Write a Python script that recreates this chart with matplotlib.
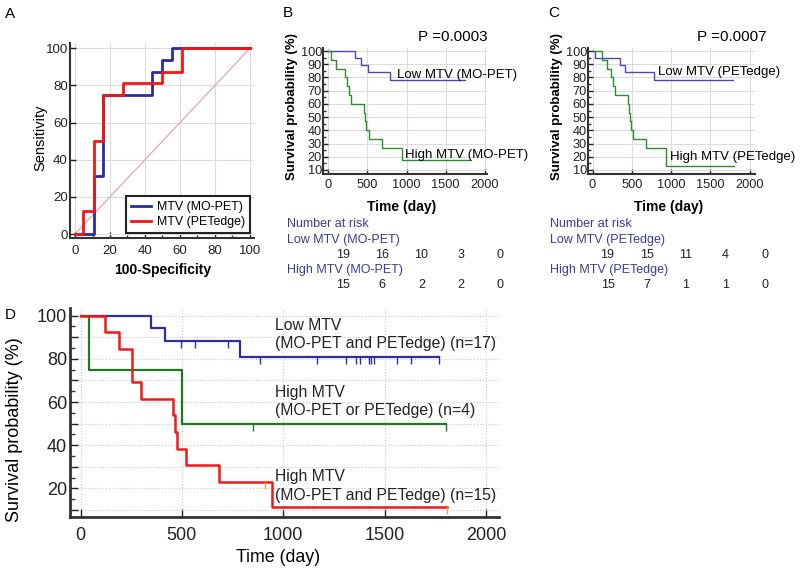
import numpy as np
import matplotlib
matplotlib.use("Agg")
import matplotlib.pyplot as plt
import matplotlib.transforms as mtransforms
from matplotlib.ticker import MultipleLocator, FuncFormatter

plt.rcParams['font.family'] = ['Liberation Sans', 'DejaVu Sans']

# ---------------- data ----------------
# Panel A: ROC curves (100-Specificity, Sensitivity)
roc_mo_x = [0, 10.9, 10.9, 16.2, 16.2, 44.2, 44.2, 49.9, 49.9, 55.2, 55.2, 100]
roc_mo_y = [0, 0, 31.25, 31.25, 75, 75, 87.5, 87.5, 93.75, 93.75, 100, 100]
roc_edge_x = [0, 4.8, 4.8, 10.9, 10.9, 16.2, 16.2, 27.2, 27.2, 49.9, 49.9, 61, 61, 100]
roc_edge_y = [0, 0, 12.5, 12.5, 50, 50, 75, 75, 81.25, 81.25, 87.5, 87.5, 100, 100]
roc_labels = ["MTV (MO-PET)", "MTV (PETedge)"]

# Panel B: KM by MO-PET
b_low_t = [0, 350, 423, 507, 784, 1750]
b_low_s = [100, 94.7, 89.5, 84.2, 78.0, 78.0]
b_high_t = [0, 40, 108, 214, 244, 262, 299, 462, 472, 484, 527, 688, 943, 1809]
b_high_s = [100, 93.3, 86.7, 80, 73.3, 66.7, 60, 53.3, 46.7, 40, 33.3, 26.7, 17.8, 17.8]
b_p = "P =0.0003"
b_groups = ["Low MTV (MO-PET)", "High MTV (MO-PET)"]
b_risk_low = [19, 16, 10, 3, 0]
b_risk_high = [15, 6, 2, 2, 0]

# Panel C: KM by PETedge
c_low_t = [0, 38, 347, 409, 779, 1784]
c_low_s = [100, 94.7, 89.5, 84.2, 78.0, 78.0]
c_high_t = [0, 121, 191, 239, 262, 283, 458, 470, 478, 490, 520, 685, 942, 1797]
c_high_s = [100, 93.3, 86.7, 80, 73.3, 66.7, 60, 53.3, 46.7, 40, 33.3, 26.7, 13.3, 13.3]
c_p = "P =0.0007"
c_groups = ["Low MTV (PETedge)", "High MTV (PETedge)"]
c_risk_low = [19, 15, 11, 4, 0]
c_risk_high = [15, 7, 1, 1, 0]

risk_times = [0, 500, 1000, 1500, 2000]

# Panel D: combined KM
d_low_t = [0, 346, 417, 787, 1770]
d_low_s = [100, 94.1, 88.2, 80.9, 80.9]
d_low_cens = [494, 565, 726, 886, 1165, 1308, 1359, 1379, 1425, 1433, 1448, 1563, 1630, 1770]
d_mix_t = [0, 40, 500, 1805]
d_mix_s = [100, 75, 50, 50]
d_mix_cens = [850, 1805]
d_high_t = [0, 121, 190, 252, 297, 458, 466, 474, 519, 685, 946, 1809]
d_high_s = [100, 92.3, 84.6, 69.2, 61.5, 53.8, 46.2, 38.5, 30.8, 23.1, 11.5, 11.5]
d_high_cens = [910, 1809]
d_labels = [("Low MTV", "(MO-PET and PETedge) (n=17)"),
            ("High MTV", "(MO-PET or PETedge) (n=4)"),
            ("High MTV", "(MO-PET and PETedge) (n=15)")]

# ---------------- layout helpers ----------------
W, H = 800, 572
fig = plt.figure(figsize=(W / 100, H / 100), dpi=100)


def rect(l, t, r, b):
    return [l / W, 1 - b / H, (r - l) / W, (b - t) / H]


def ftext(x, y, s, **kw):
    return fig.text(x / W, 1 - y / H, s, **kw)


SP = '#333333'


def style_axes(ax, lw=1.5, tick_len=4, grid_ls='-', grid_c='#dcdcdc'):
    for side in ['top', 'right']:
        ax.spines[side].set_visible(False)
    for side in ['left', 'bottom']:
        ax.spines[side].set_color(SP)
        ax.spines[side].set_linewidth(lw)
    ax.tick_params(which='both', direction='in', color=SP, width=1)
    ax.tick_params(which='major', length=tick_len)
    ax.tick_params(which='minor', length=tick_len * 0.6)
    ax.grid(True, which='major', color=grid_c, linestyle=grid_ls, linewidth=0.8)
    ax.set_axisbelow(True)


def surv_at(ts, ss, c):
    i = np.searchsorted(ts, c, side='right') - 1
    return ss[i]


# ---------------- Panel A ----------------
axA = fig.add_axes(rect(70, 43, 254, 238))
style_axes(axA)
axA.set_xlim(-2.86, 102.3)
axA.set_ylim(-2.15, 102.85)
axA.xaxis.set_major_locator(MultipleLocator(20))
axA.yaxis.set_major_locator(MultipleLocator(20))
axA.xaxis.set_minor_locator(MultipleLocator(10))
axA.tick_params(axis='both', labelsize=9.5, colors='#222222')
axA.tick_params(axis='y', pad=1.5)
axA.tick_params(axis='x', pad=5)
axA.plot([0, 100], [0, 100], color='#d9a0a0', lw=0.8)
axA.plot(roc_mo_x, roc_mo_y, color='#2b2ba6', lw=2, label=roc_labels[0])
axA.plot(roc_edge_x, roc_edge_y, color='#f21616', lw=2, label=roc_labels[1])
leg = axA.legend(loc='lower right', bbox_to_anchor=(0.978, 0.026), borderaxespad=0,
                 fontsize=8.9, fancybox=False, framealpha=1, edgecolor='#222222',
                 handlelength=1.6, handletextpad=0.5, borderpad=0.4, labelspacing=0.25)
leg.get_frame().set_linewidth(1.5)
ftext(5, 14, "A", fontsize=11, va='center', ha='left')
ftext(40, 138, "Sensitivity", fontsize=10.5, rotation=90, va='center', ha='center')
ftext(163, 270, "100-Specificity", fontsize=10, fontweight='bold', va='center', ha='center')


# ---------------- Panels B and C ----------------
def km_small(axrect, x0px, lo_t, lo_s, hi_t, hi_s, ptxt, groups, rlo, rhi,
             ylab_x, p_x, lo_lab, hi_lab, tab_x):
    ax = fig.add_axes(rect(*axrect))
    style_axes(ax, tick_len=3.5)
    l, t, r, b = axrect
    ppd = 0.0785
    ax.set_xlim(-(x0px - l) / ppd, (r - x0px) / ppd)
    ax.set_ylim(7.35, 102.3)
    ax.xaxis.set_major_locator(MultipleLocator(500))
    ax.yaxis.set_major_locator(MultipleLocator(10))
    ax.yaxis.set_minor_locator(MultipleLocator(5))
    ax.tick_params(axis='both', labelsize=9.2, colors='#222222')
    ax.tick_params(axis='y', pad=0.8)
    ax.tick_params(axis='x', pad=4)
    ax.step(lo_t, lo_s, where='post', color='#4a4ab4', lw=1.0)
    ax.step(hi_t, hi_s, where='post', color='#2e8b2e', lw=1.0)
    ftext(ylab_x, 107, "Survival probability (%)", fontsize=9.5, fontweight='bold',
          rotation=90, va='center', ha='center')
    ftext(l + (r - l) / 2 - 3, 207, "Time (day)", fontsize=10, fontweight='bold',
          va='center', ha='center')
    ftext(p_x, 37, ptxt, fontsize=11, va='center', ha='left')
    ftext(lo_lab[0], lo_lab[1], groups[0], fontsize=9.5, va='center', ha='left')
    ftext(hi_lab[0], hi_lab[1], groups[1], fontsize=9.5, va='center', ha='left')
    navy = '#3b3b9c'
    ftext(tab_x, 224, "Number at risk", fontsize=9, color=navy, va='center', ha='left')
    ftext(tab_x, 240, groups[0], fontsize=9, color=navy, va='center', ha='left')
    ftext(tab_x, 270, groups[1], fontsize=9, color=navy, va='center', ha='left')
    trans = mtransforms.blended_transform_factory(ax.transData, fig.transFigure) + \
        mtransforms.ScaledTranslation(0.15, 0, fig.dpi_scale_trans)
    for tt, n1, n2 in zip(risk_times, rlo, rhi):
        ax.text(tt, 1 - 255 / H, str(n1), transform=trans, fontsize=9,
                color='#222222', ha='center', va='center')
        ax.text(tt, 1 - 285 / H, str(n2), transform=trans, fontsize=9,
                color='#222222', ha='center', va='center')
    return ax


axB = km_small((323, 48, 487, 173.5), 328, b_low_t, b_low_s, b_high_t, b_high_s, b_p,
               b_groups, b_risk_low, b_risk_high, 292, 418, (397, 75), (405, 155), 287)
ftext(283, 13, "B", fontsize=11, va='center', ha='left')
axC = km_small((588, 48, 755, 173.5), 592.5, c_low_t, c_low_s, c_high_t, c_high_s, c_p,
               c_groups, c_risk_low, c_risk_high, 557, 697, (658, 72), (670, 157), 550)
ftext(548, 13, "C", fontsize=11, va='center', ha='left')

# ---------------- Panel D ----------------
axD = fig.add_axes(rect(70, 308.3, 499, 517))
style_axes(axD, lw=2, tick_len=6, grid_ls=':', grid_c='#c8c8c8')
ppd = 0.2027
axD.set_xlim(-(80.5 - 70) / ppd, (499 - 80.5) / ppd)
axD.set_ylim(6.8, 103.4)
axD.xaxis.set_major_locator(MultipleLocator(500))
axD.yaxis.set_major_locator(MultipleLocator(10))
axD.yaxis.set_minor_locator(MultipleLocator(5))
axD.yaxis.set_major_formatter(FuncFormatter(lambda v, p: f"{v:.0f}" if round(v) % 20 == 0 else ""))
axD.tick_params(axis='both', labelsize=13, colors='#222222')
axD.tick_params(axis='y', pad=2)
axD.tick_params(axis='x', pad=7)

blue_d, green_d, red_d, orange_d = '#2e2ea0', '#1f7a1f', '#ee1a1a', '#f0a030'
axD.step(d_low_t, d_low_s, where='post', color=blue_d, lw=1.6)
axD.step(d_mix_t, d_mix_s, where='post', color=green_d, lw=1.6)
axD.step(d_high_t, d_high_s, where='post', color=red_d, lw=1.8)
tick_h = 3.2
for cens, ts, ss, col in [(d_low_cens, d_low_t, d_low_s, blue_d),
                          (d_mix_cens, d_mix_t, d_mix_s, green_d),
                          (d_high_cens, d_high_t, d_high_s, orange_d)]:
    ys = [surv_at(ts, ss, c) for c in cens]
    axD.vlines(cens, [y - tick_h for y in ys], ys, color=col, lw=1.0)

for (l1, l2), y1 in zip(d_labels, [325, 392, 477]):
    ftext(275, y1, l1, fontsize=11.3, va='center', ha='left', color='#222222')
    ftext(275, y1 + 18.5, l2, fontsize=11.3, va='center', ha='left', color='#222222')
ftext(5, 315, "D", fontsize=11, va='center', ha='left')
ftext(15, 430, "Survival probability (%)", fontsize=13, rotation=90, va='center', ha='center')
ftext(278, 557, "Time (day)", fontsize=12.8, va='center', ha='center')

fig.savefig("out.png", dpi=100)
